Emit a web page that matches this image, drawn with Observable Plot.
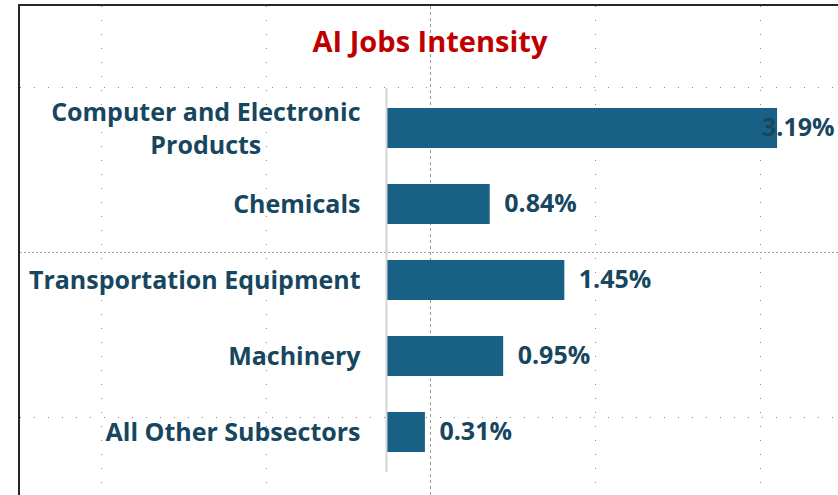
<!DOCTYPE html>
<html><head><meta charset="utf-8">
<script src="https://cdn.jsdelivr.net/npm/d3@7"></script>
<script src="https://cdn.jsdelivr.net/npm/@observablehq/plot@0.6"></script>
<style>
body{margin:0;background:#fff;}
#wrap{position:relative;width:838px;height:495px;overflow:hidden;font-family:"Open Sans",sans-serif;background:#fff;}
.gv{position:absolute;top:6px;bottom:0;width:1px;background:repeating-linear-gradient(to bottom,#8a8a8a 0 1px,transparent 1px 14px);}
.gh{position:absolute;left:20px;right:0;height:1px;background:repeating-linear-gradient(to right,#8a8a8a 0 1px,transparent 1px 14px);}
.gd{background:repeating-linear-gradient(to right,#aaa 0 2px,transparent 2px 4px);}
.gvd{position:absolute;top:6px;bottom:0;width:1px;background:repeating-linear-gradient(to bottom,#999 0 3px,transparent 3px 6px);}
#bl{position:absolute;left:18px;top:4px;bottom:0;width:2px;background:#262626;}
#bt{position:absolute;left:18px;right:0;top:4px;height:2px;background:#262626;}
#title{position:absolute;left:0;width:860px;top:21px;text-align:center;font-weight:700;font-size:29px;color:#c00000;font-family:"Open Sans",sans-serif;}
#chart{position:absolute;left:0;top:0;}
#chart svg text{font-weight:700;}
</style>
</head><body>
<div id="wrap">
  <div class="gv" style="left:101px"></div>
  <div class="gv" style="left:266px"></div>
  <div class="gv" style="left:595px"></div>
  <div class="gv" style="left:760px"></div>
  <div class="gvd" style="left:430px"></div>
  <div class="gh" style="top:87px"></div>
  <div class="gh gd" style="top:252px"></div>
  <div class="gh" style="top:417px"></div>
  <div id="bl"></div><div id="bt"></div>
  <div id="title">AI Jobs Intensity</div>
  <div id="chart"></div>
</div>
<script>
const categories = ["Computer and Electronic Products","Chemicals","Transportation Equipment","Machinery","All Other Subsectors"];
const values = [3.19, 0.84, 1.45, 0.95, 0.31];
const valueLabels = ["3.19%","0.84%","1.45%","0.95%","0.31%"];
const data = categories.map((c, i) => ({category: c, value: values[i], label: valueLabels[i]}));

const barColor = "#186184";
const textColor = "#17465f";

const chart = Plot.plot({
  width: 838,
  height: 495,
  marginTop: 88,
  marginBottom: 23,
  marginLeft: 387,
  marginRight: 23,
  style: {fontFamily: "'Open Sans', sans-serif", fontSize: "25px", color: textColor, background: "none", overflow: "visible"},
  x: {domain: [0, 3.5], axis: null},
  y: {domain: categories, paddingInner: 0.47, paddingOuter: 0.235, label: null, axis: null},
  marks: [
    Plot.barX(data, {x: "value", y: "category", fill: barColor}),
    Plot.ruleX([0], {stroke: "#d4d4d4", strokeWidth: 2, dx: -1}),
    Plot.axisY({
      tickSize: 0, tickPadding: 27, fontSize: 25, lineHeight: 1.33, fill: textColor, label: null, dy: -2,
      tickFormat: d => d === "Computer and Electronic Products" ? "Computer and Electronic\nProducts" : d
    }),
    Plot.text(data.filter(d => d.value < 3), {x: "value", y: "category", text: "label", textAnchor: "start", dx: 14, dy: -1, fontSize: 25, fill: textColor}),
    Plot.text(data.filter(d => d.value >= 3), {y: "category", text: "label", frameAnchor: "right", textAnchor: "end", dx: 19, dy: -1, fontSize: 25, fill: textColor})
  ]
});
document.getElementById("chart").appendChild(chart);

// center the lines of multi-line tick labels on each other (right-aligned as a block)
chart.querySelectorAll("text").forEach(t => {
  const spans = t.querySelectorAll("tspan");
  if (spans.length > 1 && t.getAttribute("text-anchor") !== "start") {
    let maxW = 0;
    spans.forEach(s => { maxW = Math.max(maxW, s.getComputedTextLength()); });
    t.setAttribute("text-anchor", "middle");
    spans.forEach(s => s.setAttribute("x", -maxW / 2));
  }
});
</script>
</body></html>
